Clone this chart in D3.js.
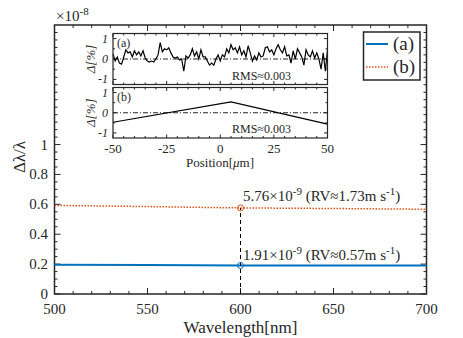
<!DOCTYPE html>
<html>
<head>
<meta charset="UTF-8">
<title>Wavelength error</title>
<script src="https://d3js.org/d3.v7.min.js"></script>
<style>
body { margin:0; background:white; }
svg text { font-family:'Liberation Serif','DejaVu Serif',serif; fill:#262626; }
</style>
</head>
<body>
<script>
// main plot data (units of 1e-8)
var wavelength = [500, 550, 600, 650, 700];
var seriesA = [0.196, 0.194, 0.191, 0.190, 0.190];
var seriesB = [0.593, 0.585, 0.576, 0.572, 0.567];
var markX = 600, markA = 0.191, markB = 0.576;
var xTicks = [500, 550, 600, 650, 700];
var yTicks = [0, 0.2, 0.4, 0.6, 0.8, 1];

// inset data, Delta[%] vs position[um]
var insetA = [0.25,-0.1,0.1,-0.2,-0.25,0.1,0.45,0.3,0.35,0.1,0.4,0.2,0.35,0.15,0.4,0.05,-0.1,-0.15,-0.1,-0.15,
  0.0,0.2,0.8,0.35,0.5,0.45,0.55,0.3,0.1,0.05,0.1,-0.05,0.0,-0.6,0.15,0.05,0.2,0.5,0.15,0.35,
  0.0,0.45,0.1,0.1,-0.1,-0.3,-0.2,-0.3,0.0,0.2,-0.1,0.2,0.1,0.5,0.3,0.7,0.45,0.55,0.3,0.6,
  0.2,0.4,0.1,0.65,0.3,-0.1,0.15,-0.05,0.3,0.1,0.15,0.55,0.6,0.35,0.45,0.2,0.5,0.7,0.45,0.3,
  0.6,0.15,0.2,-0.2,0.4,0.0,0.5,0.3,0.1,-0.3,0.45,0.2,0.1,0.4,0.05,0.3,0.0,-0.5,0.3,-0.6,0.45];
var posB = [-50, 5, 50];
var insetB = [-0.47, 0.54, -0.56];
var insetXTicks = [-50, -25, 0, 25, 50];
var insetYTicks = [-1, 0, 1];

var W = 463, H = 338;
var svg = d3.select("body").append("svg").attr("width", W).attr("height", H)
  .attr("font-family", "'Liberation Serif','DejaVu Serif',serif")
  .style("background", "white");

var x = d3.scaleLinear().domain([500, 700]).range([54.5, 426.5]);
var y = d3.scaleLinear().domain([0, 1.8]).range([294, 25]);
var ink = "#262626";

// inward ticks on all four sides of a box
function frameTicks(g, xs, ys, xMinor, yMinor, x0, x1, y0, y1, big, small) {
  xMinor.forEach(function(v) {
    var len = xs.major.indexOf(v) >= 0 ? big : small;
    var px = xs.scale(v);
    g.append("line").attr("x1", px).attr("x2", px).attr("y1", y1).attr("y2", y1 - len).attr("stroke", ink);
    g.append("line").attr("x1", px).attr("x2", px).attr("y1", y0).attr("y2", y0 + len).attr("stroke", ink);
  });
  yMinor.forEach(function(v) {
    var len = ys.major.indexOf(v) >= 0 ? big : small;
    var py = ys.scale(v);
    g.append("line").attr("y1", py).attr("y2", py).attr("x1", x0).attr("x2", x0 + len).attr("stroke", ink);
    g.append("line").attr("y1", py).attr("y2", py).attr("x1", x1).attr("x2", x1 - len).attr("stroke", ink);
  });
}

// main axes ticks
var main = svg.append("g");
var xMinor = d3.range(500, 701, 10);
var yMinor = d3.range(0, 36).map(function(i) { return +(i * 0.05).toFixed(2); });
frameTicks(main, {scale: x, major: xTicks}, {scale: y, major: yTicks}, xMinor, yMinor,
  54.5, 426.5, 25, 294, 6, 3);

main.selectAll(".xl").data(xTicks).enter().append("text")
  .attr("x", function(d) { return x(d); }).attr("y", 314)
  .attr("text-anchor", "middle").style("font-size", "15px").text(function(d) { return d; });
main.selectAll(".yl").data(yTicks).enter().append("text")
  .attr("x", 48).attr("y", function(d) { return y(d) + 5; })
  .attr("text-anchor", "end").style("font-size", "15px").text(function(d) { return d; });

svg.append("text").attr("x", 240.5).attr("y", 333).attr("text-anchor", "middle")
  .style("font-size", "17px").text("Wavelength[nm]");
svg.append("text").attr("transform", "translate(25,157) rotate(-90)").attr("text-anchor", "middle")
  .style("font-size", "17px").text("Δλ/λ");
var ex = svg.append("text").attr("x", 56).attr("y", 21).style("font-size", "15px");
ex.append("tspan").text("×10");
ex.append("tspan").attr("dy", -6).style("font-size", "11px").text("-8");

// series
var line = d3.line().x(function(d) { return x(d[0]); }).y(function(d) { return y(d[1]); });
svg.append("path").datum(d3.zip(wavelength, seriesB)).attr("d", line)
  .attr("fill", "none").attr("stroke", "#D95319").attr("stroke-width", 1.5).attr("stroke-dasharray", "1.5,1.5");
svg.append("path").datum(d3.zip(wavelength, seriesA)).attr("d", line)
  .attr("fill", "none").attr("stroke", "#0072BD").attr("stroke-width", 2);

svg.append("line").attr("x1", x(markX)).attr("x2", x(markX)).attr("y1", y(0)).attr("y2", y(markB))
  .attr("stroke", "black").attr("stroke-width", 1).attr("stroke-dasharray", "4,3");
svg.append("circle").attr("cx", x(markX)).attr("cy", y(markB)).attr("r", 3)
  .attr("fill", "none").attr("stroke", "#D95319");
svg.append("circle").attr("cx", x(markX)).attr("cy", y(markA)).attr("r", 3)
  .attr("fill", "none").attr("stroke", "#0072BD");

function annot(yy, a, b) {
  var t = svg.append("text").attr("x", 243).attr("y", yy).style("font-size", "15px");
  t.append("tspan").text(a + "×10");
  t.append("tspan").attr("dy", -6).style("font-size", "11px").text("-9");
  t.append("tspan").attr("dy", 6).text(" (RV≈" + b + "m s");
  t.append("tspan").attr("dy", -6).style("font-size", "11px").text("-1");
  t.append("tspan").attr("dy", 6).text(")");
}
annot(201, "5.76", "1.73");
annot(260, "1.91", "0.57");

main.append("rect").attr("x", 54.5).attr("y", 25).attr("width", 372).attr("height", 269)
  .attr("fill", "none").attr("stroke", ink).attr("stroke-width", 1.5);

// legend
var lg = svg.append("g");
lg.append("rect").attr("x", 363.5).attr("y", 32).attr("width", 56.5).attr("height", 48)
  .attr("fill", "white").attr("stroke", ink).attr("stroke-width", 1.5);
lg.append("line").attr("x1", 366).attr("x2", 388).attr("y1", 44).attr("y2", 44)
  .attr("stroke", "#0072BD").attr("stroke-width", 2);
lg.append("line").attr("x1", 366).attr("x2", 388).attr("y1", 67).attr("y2", 67)
  .attr("stroke", "#D95319").attr("stroke-width", 1.5).attr("stroke-dasharray", "1.5,1.5");
lg.append("text").attr("x", 393).attr("y", 50).style("font-size", "19px").text("(a)");
lg.append("text").attr("x", 393).attr("y", 73).style("font-size", "19px").text("(b)");

// inset
var ix = d3.scaleLinear().domain([-50, 50]).range([113, 327.5]);
var ixMinor = d3.range(-50, 51, 5);
var iyMinor = [-1, -0.5, 0, 0.5, 1];
var panels = [
  {top: 33.5, bot: 84.5, tag: "(a)", data: d3.zip(d3.range(-50, 51), insetA)},
  {top: 87.5, bot: 138, tag: "(b)", data: d3.zip(posB, insetB)}
];
panels.forEach(function(p) {
  var iy = d3.scaleLinear().domain([-1.25, 1.25]).range([p.bot, p.top]);
  var g = svg.append("g");
  g.append("rect").attr("x", 113).attr("y", p.top).attr("width", 214.5).attr("height", p.bot - p.top)
    .attr("fill", "white");
  frameTicks(g, {scale: ix, major: insetXTicks}, {scale: iy, major: insetYTicks}, ixMinor, iyMinor,
    113, 327.5, p.top, p.bot, 3.5, 2);
  g.append("line").attr("x1", 113).attr("x2", 327.5).attr("y1", iy(0)).attr("y2", iy(0))
    .attr("stroke", ink).attr("stroke-width", 1).attr("stroke-dasharray", "5,2,1,2");
  var l = d3.line().x(function(d) { return ix(d[0]); }).y(function(d) { return iy(d[1]); });
  g.append("path").datum(p.data).attr("d", l).attr("fill", "none").attr("stroke", "black").attr("stroke-width", 1.2);
  g.append("rect").attr("x", 113).attr("y", p.top).attr("width", 214.5).attr("height", p.bot - p.top)
    .attr("fill", "none").attr("stroke", ink).attr("stroke-width", 1.2);
  g.selectAll(".iyl").data(insetYTicks).enter().append("text")
    .attr("x", 108).attr("y", function(d) { return iy(d) + 4; }).attr("text-anchor", "end")
    .style("font-size", "12px").style("font-style", "italic").text(function(d) { return d; });
  g.append("text").attr("transform", "translate(95," + ((p.top + p.bot) / 2) + ") rotate(-90)")
    .attr("text-anchor", "middle").style("font-size", "13px").style("font-style", "italic").text("Δ[%]");
  g.append("text").attr("x", 117).attr("y", p.top + 13).style("font-size", "12px").text(p.tag);
  g.append("text").attr("x", 232).attr("y", p.bot - 5).style("font-size", "12px").text("RMS≈0.003");
});
svg.selectAll(".ixl").data(insetXTicks).enter().append("text")
  .attr("x", function(d) { return ix(d); }).attr("y", 153).attr("text-anchor", "middle")
  .style("font-size", "13px").text(function(d) { return d; });
var pl = svg.append("text").attr("x", 220).attr("y", 167).attr("text-anchor", "middle").style("font-size", "13px");
pl.append("tspan").text("Position[");
pl.append("tspan").style("font-style", "italic").text("μ");
pl.append("tspan").text("m]");
</script>
</body>
</html>
